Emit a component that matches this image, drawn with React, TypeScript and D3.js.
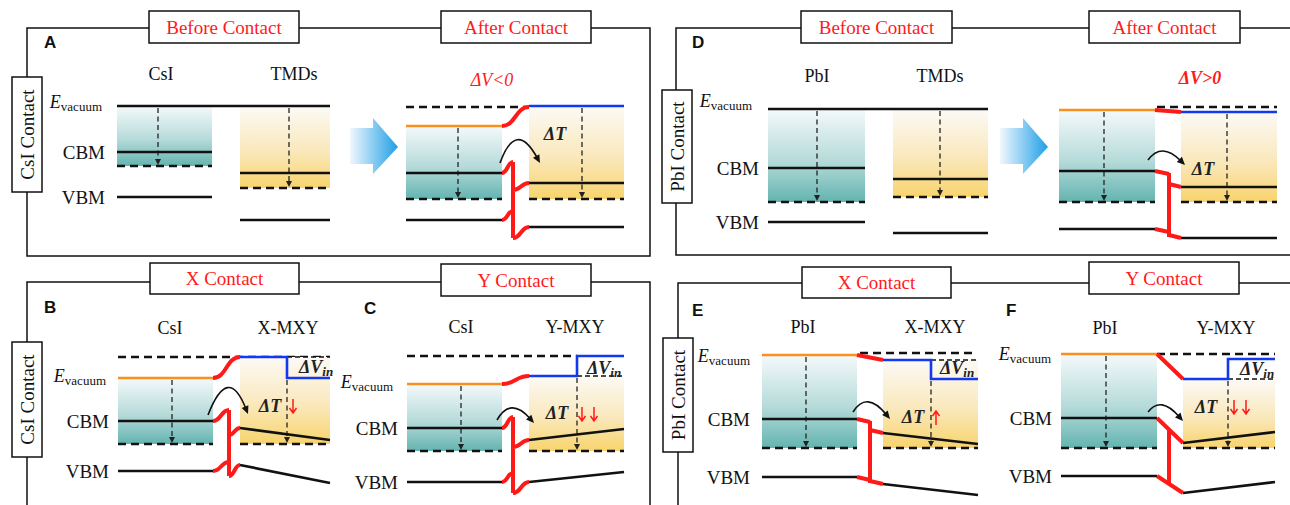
import React from "react";
import * as d3 from "d3";

// Schematic band-alignment diagrams: CsI / PbI contacts with TMDs and Janus MXY layers.
// All energies are in eV, measured from the vacuum reference of each panel.

const PX_PER_EV = 20;

// Uniform slabs: [vacuum, CBM, Fermi level, VBM]
const csiIsolatedA = [0, -2.3, -3.0, -4.55];
const tmdIsolatedA = [0, -3.35, -4.1, -5.7];
const csiJoinedA = [-1.0, -3.35, -4.65, -5.7];
const tmdJoinedA = [0, -3.85, -4.65, -6.05];

const pbiIsolatedD = [0, -2.95, -4.65, -5.65];
const tmdIsolatedD = [0, -3.5, -4.4, -6.2];
const pbiJoinedD = [-0.05, -3.1, -4.65, -6.0];
const tmdJoinedD = [-0.15, -3.9, -4.65, -6.45];
const vacuumRefD = 0.1;

const csiB = [-1.05, -3.2, -4.35, -5.7];
const csiC = [-1.4, -3.6, -4.75, -6.3];
const pbiE = [-0.1, -3.3, -4.75, -6.2];
const pbiF = [0, -3.2, -4.7, -6.1];

// Janus layers: [vacuum L, vacuum R, CBM L, CBM R, Fermi level, VBM L, VBM R]
const xmxyB = [0, -1.05, -3.55, -4.15, -4.35, -5.4, -6.3];
const ymxyC = [-1.0, 0, -4.2, -3.65, -4.75, -6.3, -5.8];
const xmxyE = [-0.35, -1.3, -4.0, -4.55, -4.75, -6.55, -7.1];
const ymxyF = [-1.25, -0.25, -4.45, -3.9, -4.7, -6.95, -6.4];

// Text
const stageTitles = ["Before Contact", "After Contact"];
const faceTitles = ["X Contact", "Y Contact"];
const sideTitles = ["CsI Contact", "PbI Contact"];
const panelLetters = ["A", "B", "C", "D", "E", "F"];
const bandNames = ["CBM", "VBM"];
const materialNames = ["CsI", "PbI", "TMDs", "X-MXY", "Y-MXY"];
const potentialSigns = ["ΔV<0", "ΔV>0"];

const SERIF = "'Liberation Serif', 'Times New Roman', serif";
const SANS = "'Liberation Sans', Arial, sans-serif";
const INK = "#111";
const ORANGE = "#f7901e";
const BLUE = "#1238f0";
const RED = "#ff1a1a";
const LW = 2.6;

type Scale = d3.ScaleLinear<number, number>;
const scaleFor = (origin: number): Scale =>
  d3.scaleLinear().domain([0, -1]).range([origin, origin + PX_PER_EV]);

function DropArrow({ x, y0, y1 }: { x: number; y0: number; y1: number }) {
  return (
    <g>
      <line x1={x} x2={x} y1={y0 + 2} y2={y1 - 6} stroke="#222" strokeWidth={1.3} strokeDasharray="5 3.5" />
      <path d={`M${x - 3},${y1 - 7}L${x + 3},${y1 - 7}L${x},${y1 - 1}Z`} fill="#222" />
    </g>
  );
}

function Slab({ x0, x1, y, levels, fill, arrowX, vacStroke }: {
  x0: number; x1: number; y: Scale; levels: number[]; fill: string; arrowX: number; vacStroke?: string;
}) {
  const [vac, cbm, ef, vbm] = levels.map((v) => y(v));
  return (
    <g>
      <rect x={x0} y={vac} width={x1 - x0} height={ef - vac} fill={`url(#${fill})`} />
      <DropArrow x={arrowX} y0={vac} y1={ef} />
      {vacStroke && <line x1={x0} x2={x1} y1={vac} y2={vac} stroke={vacStroke} strokeWidth={LW} />}
      <line x1={x0} x2={x1} y1={cbm} y2={cbm} stroke={INK} strokeWidth={LW} />
      <line x1={x0} x2={x1} y1={ef} y2={ef} stroke={INK} strokeWidth={LW} strokeDasharray="8 5" />
      <line x1={x0} x2={x1} y1={vbm} y2={vbm} stroke={INK} strokeWidth={LW} />
    </g>
  );
}

function JanusSlab({ x0, x1, stepX, y, levels }: {
  x0: number; x1: number; stepX: number; y: Scale; levels: number[];
}) {
  const [vl, vr, cl, cr, ef, bl, br] = levels.map((v) => y(v));
  return (
    <g>
      <rect x={x0} y={vl} width={x1 - x0} height={ef - vl} fill="url(#gold)" />
      <DropArrow x={stepX} y0={Math.max(vl, vr)} y1={ef} />
      <line x1={stepX} x2={x1} y1={vl} y2={vl} stroke={INK} strokeWidth={1.4} strokeDasharray="5 3" />
      <path d={`M${x0},${vl}H${stepX}V${vr}H${x1}`} fill="none" stroke={BLUE} strokeWidth={LW} />
      <line x1={x0} x2={x1} y1={cl} y2={cr} stroke={INK} strokeWidth={LW} />
      <line x1={x0} x2={x1} y1={ef} y2={ef} stroke={INK} strokeWidth={LW} strokeDasharray="8 5" />
      <line x1={x0} x2={x1} y1={bl} y2={br} stroke={INK} strokeWidth={LW} />
    </g>
  );
}

function sCurve(xa: number, ya: number, xb: number, yb: number) {
  const p = d3.path();
  const mx = (xa + xb) / 2;
  p.moveTo(xa, ya);
  p.bezierCurveTo(mx, ya, mx, yb, xb, yb);
  return p.toString();
}

function Junction({ kind, xL, xR, xm, left, right }: {
  kind: "curve" | "step" | "slant"; xL: number; xR: number; xm: number; left: number[]; right: number[];
}) {
  // left / right: pixel y of [vacuum, CBM, VBM] on each side of the interface
  const [vL, cL, bL] = left;
  const [vR, cR, bR] = right;
  let parts: string[];
  if (kind === "curve") {
    parts = [
      sCurve(xL, vL, xR, vR),
      sCurve(xL, cL, xm, cL - 11),
      sCurve(xm, cR + 7, xR, cR),
      sCurve(xL, bL, xm, bL - 9),
      sCurve(xm, bR + 11, xR, bR),
      `M${xm},${cL - 11}V${bR + 11}`,
    ];
  } else if (kind === "step") {
    parts = [
      `M${xL},${vL}L${xR},${vR}`,
      `M${xL},${cL}L${xm},${cL + 3}`,
      `M${xm},${cL + 2}V${bR - 1}`,
      `M${xm},${cR - 3}L${xR},${cR}`,
      `M${xL},${bL}L${xm},${bL + 3}`,
      `M${xm},${bR - 3}L${xR},${bR}`,
    ];
  } else {
    const t = (xm - xL) / (xR - xL);
    const yc = cL + (cR - cL) * t;
    const yb = bL + (bR - bL) * t;
    parts = [
      `M${xL},${vL}L${xR},${vR}`,
      `M${xL},${cL}L${xR},${cR}`,
      `M${xL},${bL}L${xR},${bR}`,
      `M${xm},${yc}V${yb}`,
    ];
  }
  return <path d={parts.join("")} fill="none" stroke={RED} strokeWidth={4} />;
}

function HopArrow({ s, peak, e }: { s: [number, number]; peak: [number, number]; e: [number, number] }) {
  const c: [number, number] = [2 * peak[0] - (s[0] + e[0]) / 2, 2 * peak[1] - (s[1] + e[1]) / 2];
  const p = d3.path();
  const dx = e[0] - c[0];
  const dy = e[1] - c[1];
  const len = Math.hypot(dx, dy);
  const ux = dx / len;
  const uy = dy / len;
  const hl = 8;
  const hw = 3.6;
  const bx = e[0] - ux * hl;
  const by = e[1] - uy * hl;
  p.moveTo(s[0], s[1]);
  p.quadraticCurveTo(c[0], c[1], bx + ux * 2, by + uy * 2);
  return (
    <g>
      <path d={p.toString()} fill="none" stroke={INK} strokeWidth={1.6} />
      <path d={`M${e[0]},${e[1]}L${bx - uy * hw},${by + ux * hw}L${bx + uy * hw},${by - ux * hw}Z`} fill={INK} />
    </g>
  );
}

function RedArrows({ xs, y0, y1 }: { xs: number[]; y0: number; y1: number }) {
  const tip = y1;
  const dir = y1 > y0 ? -1 : 1;
  return (
    <g stroke={RED} strokeWidth={1.5} fill="none">
      {xs.map((x, i) => (
        <path key={i} d={`M${x},${y0}L${x},${tip}M${x - 3.5},${tip + dir * 5}L${x},${tip}L${x + 3.5},${tip + dir * 5}`} />
      ))}
    </g>
  );
}

function LevelLabels({ xEnd, vacEnd, vacBase, cbmY, vbmY }: {
  xEnd: number; vacEnd: number; vacBase: number; cbmY: number; vbmY: number;
}) {
  return (
    <g fontFamily={SERIF} fill={INK}>
      <text x={vacEnd} y={vacBase} textAnchor="end">
        <tspan fontStyle="italic" fontSize={18}>E</tspan>
        <tspan fontSize={13} dy={3}>vacuum</tspan>
      </text>
      <text x={xEnd} y={cbmY + 6.5} textAnchor="end" fontSize={19}>{bandNames[0]}</text>
      <text x={xEnd} y={vbmY + 6.5} textAnchor="end" fontSize={19}>{bandNames[1]}</text>
    </g>
  );
}

function TitleBox({ x0, x1, y0, y1, text }: { x0: number; x1: number; y0: number; y1: number; text: string }) {
  return (
    <g>
      <rect x={x0} y={y0} width={x1 - x0} height={y1 - y0} fill="#fff" stroke={INK} strokeWidth={1.5} />
      <text x={(x0 + x1) / 2} y={(y0 + y1) / 2 + 6.5} textAnchor="middle" fontFamily={SERIF} fontSize={19} fill={RED}>
        {text}
      </text>
    </g>
  );
}

function SideBox({ x0, x1, y0, y1, text }: { x0: number; x1: number; y0: number; y1: number; text: string }) {
  const cx = (x0 + x1) / 2;
  const cy = (y0 + y1) / 2;
  return (
    <g>
      <rect x={x0} y={y0} width={x1 - x0} height={y1 - y0} fill="#fff" stroke={INK} strokeWidth={1.5} />
      <text x={cx} y={cy} transform={`rotate(-90 ${cx} ${cy})`} dy={6.5} textAnchor="middle" fontFamily={SERIF} fontSize={19} fill={INK}>
        {text}
      </text>
    </g>
  );
}

function Letter({ x, y, t }: { x: number; y: number; t: string }) {
  return <text x={x} y={y} fontFamily={SANS} fontWeight="bold" fontSize={17} fill={INK}>{t}</text>;
}

function Name({ x, y, t }: { x: number; y: number; t: string }) {
  return <text x={x} y={y} textAnchor="middle" fontFamily={SERIF} fontSize={18} fill={INK}>{t}</text>;
}

function DeltaT({ x, y }: { x: number; y: number }) {
  return (
    <text x={x} y={y} textAnchor="middle" fontFamily={SERIF} fontStyle="italic" fontWeight="bold" fontSize={18} fill="#222">
      ΔT
    </text>
  );
}

function DeltaVin({ x, y }: { x: number; y: number }) {
  return (
    <text x={x} y={y} fontFamily={SERIF} fontStyle="italic" fontWeight="bold" fill="#222">
      <tspan fontSize={18}>ΔV</tspan>
      <tspan fontSize={13} dy={3}>in</tspan>
    </text>
  );
}

function BigArrow({ x0 }: { x0: number }) {
  const d = `M${x0},128H${x0 + 23}V118L${x0 + 48},147L${x0 + 23},174V164H${x0}Z`;
  return <path d={d} fill="url(#push)" />;
}

export default function App() {
  const yA = scaleFor(106);
  const yD = scaleFor(109);
  const yB = scaleFor(357);
  const yC = scaleFor(356);
  const yE = scaleFor(353);
  const yF = scaleFor(354);
  const dash = { stroke: INK, strokeWidth: LW, strokeDasharray: "8 5" };

  return (
    <svg width={1290} height={505} style={{ position: "absolute", left: 0, top: 0, background: "#fff" }}>
      <defs>
        <linearGradient id="teal" x1="0" y1="0" x2="0" y2="1">
          <stop offset="0" stopColor="#f5f9fb" />
          <stop offset="0.55" stopColor="#b6dbda" />
          <stop offset="1" stopColor="#63b4b0" />
        </linearGradient>
        <linearGradient id="gold" x1="0" y1="0" x2="0" y2="1">
          <stop offset="0" stopColor="#fcfaf6" />
          <stop offset="0.55" stopColor="#fae8bc" />
          <stop offset="1" stopColor="#f8d46c" />
        </linearGradient>
        <linearGradient id="push" x1="0" y1="0" x2="1" y2="0">
          <stop offset="0" stopColor="#f1f7fd" />
          <stop offset="1" stopColor="#1e9fe6" />
        </linearGradient>
      </defs>

      {/* frames */}
      <g fill="none" stroke={INK} strokeWidth={1.5}>
        <rect x={27} y={28} width={623} height={228} />
        <rect x={676} y={28} width={640} height={227} />
        <rect x={27} y={282} width={623} height={240} />
        <rect x={678} y={283} width={640} height={240} />
      </g>

      <TitleBox x0={149} x1={299} y0={11} y1={43} text={stageTitles[0]} />
      <TitleBox x0={441} x1={591} y0={11} y1={43} text={stageTitles[1]} />
      <TitleBox x0={801} x1={952} y0={11} y1={43} text={stageTitles[0]} />
      <TitleBox x0={1089} x1={1240} y0={11} y1={43} text={stageTitles[1]} />
      <TitleBox x0={150} x1={299} y0={263} y1={294} text={faceTitles[0]} />
      <TitleBox x0={441} x1={591} y0={264} y1={296} text={faceTitles[1]} />
      <TitleBox x0={802} x1={951} y0={267} y1={298} text={faceTitles[0]} />
      <TitleBox x0={1089} x1={1239} y0={262} y1={294} text={faceTitles[1]} />

      <SideBox x0={12} x1={42} y0={77} y1={192} text={sideTitles[0]} />
      <SideBox x0={662} x1={692} y0={90} y1={203} text={sideTitles[1]} />
      <SideBox x0={12} x1={42} y0={342} y1={457} text={sideTitles[0]} />
      <SideBox x0={663} x1={693} y0={338} y1={452} text={sideTitles[1]} />

      <Letter x={44} y={48} t={panelLetters[0]} />
      <Letter x={44} y={313} t={panelLetters[1]} />
      <Letter x={364} y={314} t={panelLetters[2]} />
      <Letter x={692} y={48} t={panelLetters[3]} />
      <Letter x={692} y={316} t={panelLetters[4]} />
      <Letter x={1006} y={316} t={panelLetters[5]} />

      {/* Panel A */}
      <Name x={161} y={80} t={materialNames[0]} />
      <Name x={294} y={80} t={materialNames[2]} />
      <LevelLabels xEnd={105} vacEnd={102} vacBase={108} cbmY={yA(csiIsolatedA[1])} vbmY={yA(csiIsolatedA[3])} />
      <Slab x0={117} x1={212} y={yA} levels={csiIsolatedA} fill="teal" arrowX={158} />
      <Slab x0={240} x1={330} y={yA} levels={tmdIsolatedA} fill="gold" arrowX={289} />
      <line x1={117} x2={330} y1={yA(0)} y2={yA(0)} stroke={INK} strokeWidth={LW} />
      <BigArrow x0={350} />
      <text x={492} y={86} textAnchor="middle" fontFamily={SERIF} fontStyle="italic" fontSize={18} fill={RED}>{potentialSigns[0]}</text>
      <line x1={406} x2={531} y1={yA(0) + 1} y2={yA(0) + 1} {...dash} />
      <Slab x0={406} x1={502} y={yA} levels={csiJoinedA} fill="teal" arrowX={458} vacStroke={ORANGE} />
      <Slab x0={529} x1={624} y={yA} levels={tmdJoinedA} fill="gold" arrowX={582} vacStroke={BLUE} />
      <Junction kind="curve" xL={502} xR={529} xm={513}
        left={[yA(csiJoinedA[0]), yA(csiJoinedA[1]), yA(csiJoinedA[3])]}
        right={[yA(tmdJoinedA[0]) + 1, yA(tmdJoinedA[1]), yA(tmdJoinedA[3])]} />
      <HopArrow s={[500, 163]} peak={[518, 141]} e={[540, 163]} />
      <DeltaT x={555} y={140} />

      {/* Panel D */}
      <Name x={817} y={82} t={materialNames[1]} />
      <Name x={940} y={82} t={materialNames[2]} />
      <LevelLabels xEnd={759} vacEnd={752} vacBase={107} cbmY={yD(pbiIsolatedD[1])} vbmY={yD(pbiIsolatedD[3])} />
      <Slab x0={768} x1={865} y={yD} levels={pbiIsolatedD} fill="teal" arrowX={817} />
      <Slab x0={893} x1={988} y={yD} levels={tmdIsolatedD} fill="gold" arrowX={940} />
      <line x1={768} x2={988} y1={yD(0)} y2={yD(0)} stroke={INK} strokeWidth={LW} />
      <BigArrow x0={1000} />
      <text x={1200} y={84} textAnchor="middle" fontFamily={SERIF} fontStyle="italic" fontWeight="bold" fontSize={18} fill={RED}>{potentialSigns[1]}</text>
      <line x1={1157} x2={1277} y1={yD(vacuumRefD)} y2={yD(vacuumRefD)} {...dash} />
      <Slab x0={1059} x1={1155} y={yD} levels={pbiJoinedD} fill="teal" arrowX={1104} vacStroke={ORANGE} />
      <Slab x0={1181} x1={1277} y={yD} levels={tmdJoinedD} fill="gold" arrowX={1227} vacStroke={BLUE} />
      <Junction kind="step" xL={1155} xR={1181} xm={1169}
        left={[yD(pbiJoinedD[0]), yD(pbiJoinedD[1]), yD(pbiJoinedD[3])]}
        right={[yD(tmdJoinedD[0]), yD(tmdJoinedD[1]), yD(tmdJoinedD[3])]} />
      <HopArrow s={[1148, 160]} peak={[1164, 152]} e={[1185, 165]} />
      <DeltaT x={1203} y={175} />

      {/* Panel B */}
      <Name x={170} y={334} t={materialNames[0]} />
      <Name x={288} y={334} t={materialNames[3]} />
      <LevelLabels xEnd={109} vacEnd={106} vacBase={382} cbmY={yB(csiB[1])} vbmY={yB(csiB[3])} />
      <line x1={118} x2={330} y1={yB(0)} y2={yB(0)} {...dash} />
      <Slab x0={118} x1={213} y={yB} levels={csiB} fill="teal" arrowX={172} vacStroke={ORANGE} />
      <JanusSlab x0={240} x1={330} stepX={287} y={yB} levels={xmxyB} />
      <Junction kind="curve" xL={213} xR={240} xm={229}
        left={[yB(csiB[0]), yB(csiB[1]), yB(csiB[3])]}
        right={[yB(xmxyB[0]), yB(xmxyB[2]), yB(xmxyB[5])]} />
      <HopArrow s={[208, 415]} peak={[228, 389]} e={[248, 414]} />
      <DeltaT x={270} y={412} />
      <RedArrows xs={[293]} y0={399} y1={413} />
      <DeltaVin x={299} y={373} />

      {/* Panel C */}
      <Name x={461} y={333} t={materialNames[0]} />
      <Name x={575} y={333} t={materialNames[4]} />
      <LevelLabels xEnd={398} vacEnd={393} vacBase={388} cbmY={yC(csiC[1])} vbmY={yC(csiC[3])} />
      <line x1={407} x2={577} y1={yC(0)} y2={yC(0)} {...dash} />
      <Slab x0={407} x1={502} y={yC} levels={csiC} fill="teal" arrowX={461} vacStroke={ORANGE} />
      <JanusSlab x0={529} x1={624} stepX={577} y={yC} levels={ymxyC} />
      <Junction kind="curve" xL={502} xR={529} xm={513}
        left={[yC(csiC[0]), yC(csiC[1]), yC(csiC[3])]}
        right={[yC(ymxyC[0]), yC(ymxyC[2]), yC(ymxyC[5])]} />
      <HopArrow s={[497, 420]} peak={[513, 409]} e={[534, 423]} />
      <DeltaT x={557} y={419} />
      <RedArrows xs={[582, 594]} y0={407} y1={421} />
      <DeltaVin x={587} y={374} />

      {/* Panel E */}
      <Name x={803} y={333} t={materialNames[1]} />
      <Name x={935} y={333} t={materialNames[3]} />
      <LevelLabels xEnd={750} vacEnd={750} vacBase={362} cbmY={yE(pbiE[1])} vbmY={yE(pbiE[3])} />
      <line x1={860} x2={977} y1={yE(0)} y2={yE(0)} {...dash} />
      <Slab x0={762} x1={857} y={yE} levels={pbiE} fill="teal" arrowX={806} vacStroke={ORANGE} />
      <JanusSlab x0={883} x1={978} stepX={931} y={yE} levels={xmxyE} />
      <Junction kind="step" xL={857} xR={883} xm={870}
        left={[yE(pbiE[0]), yE(pbiE[1]), yE(pbiE[3])]}
        right={[yE(xmxyE[0]), yE(xmxyE[2]), yE(xmxyE[5])]} />
      <HopArrow s={[853, 412]} peak={[869, 403]} e={[890, 419]} />
      <DeltaT x={913} y={423} />
      <RedArrows xs={[936]} y0={425} y1={411} />
      <DeltaVin x={940} y={374} />

      {/* Panel F */}
      <Name x={1105} y={334} t={materialNames[1]} />
      <Name x={1226} y={334} t={materialNames[4]} />
      <LevelLabels xEnd={1052} vacEnd={1051} vacBase={360} cbmY={yF(pbiF[1])} vbmY={yF(pbiF[3])} />
      <line x1={1157} x2={1275} y1={yF(0)} y2={yF(0)} {...dash} />
      <Slab x0={1061} x1={1157} y={yF} levels={pbiF} fill="teal" arrowX={1106} vacStroke={ORANGE} />
      <JanusSlab x0={1183} x1={1275} stepX={1228} y={yF} levels={ymxyF} />
      <Junction kind="slant" xL={1157} xR={1183} xm={1169}
        left={[yF(pbiF[0]), yF(pbiF[1]), yF(pbiF[3])]}
        right={[yF(ymxyF[0]), yF(ymxyF[2]), yF(ymxyF[5])]} />
      <HopArrow s={[1148, 412]} peak={[1163, 406]} e={[1183, 421]} />
      <DeltaT x={1206} y={413} />
      <RedArrows xs={[1234, 1246]} y0={400} y1={414} />
      <DeltaVin x={1240} y={375} />
    </svg>
  );
}
